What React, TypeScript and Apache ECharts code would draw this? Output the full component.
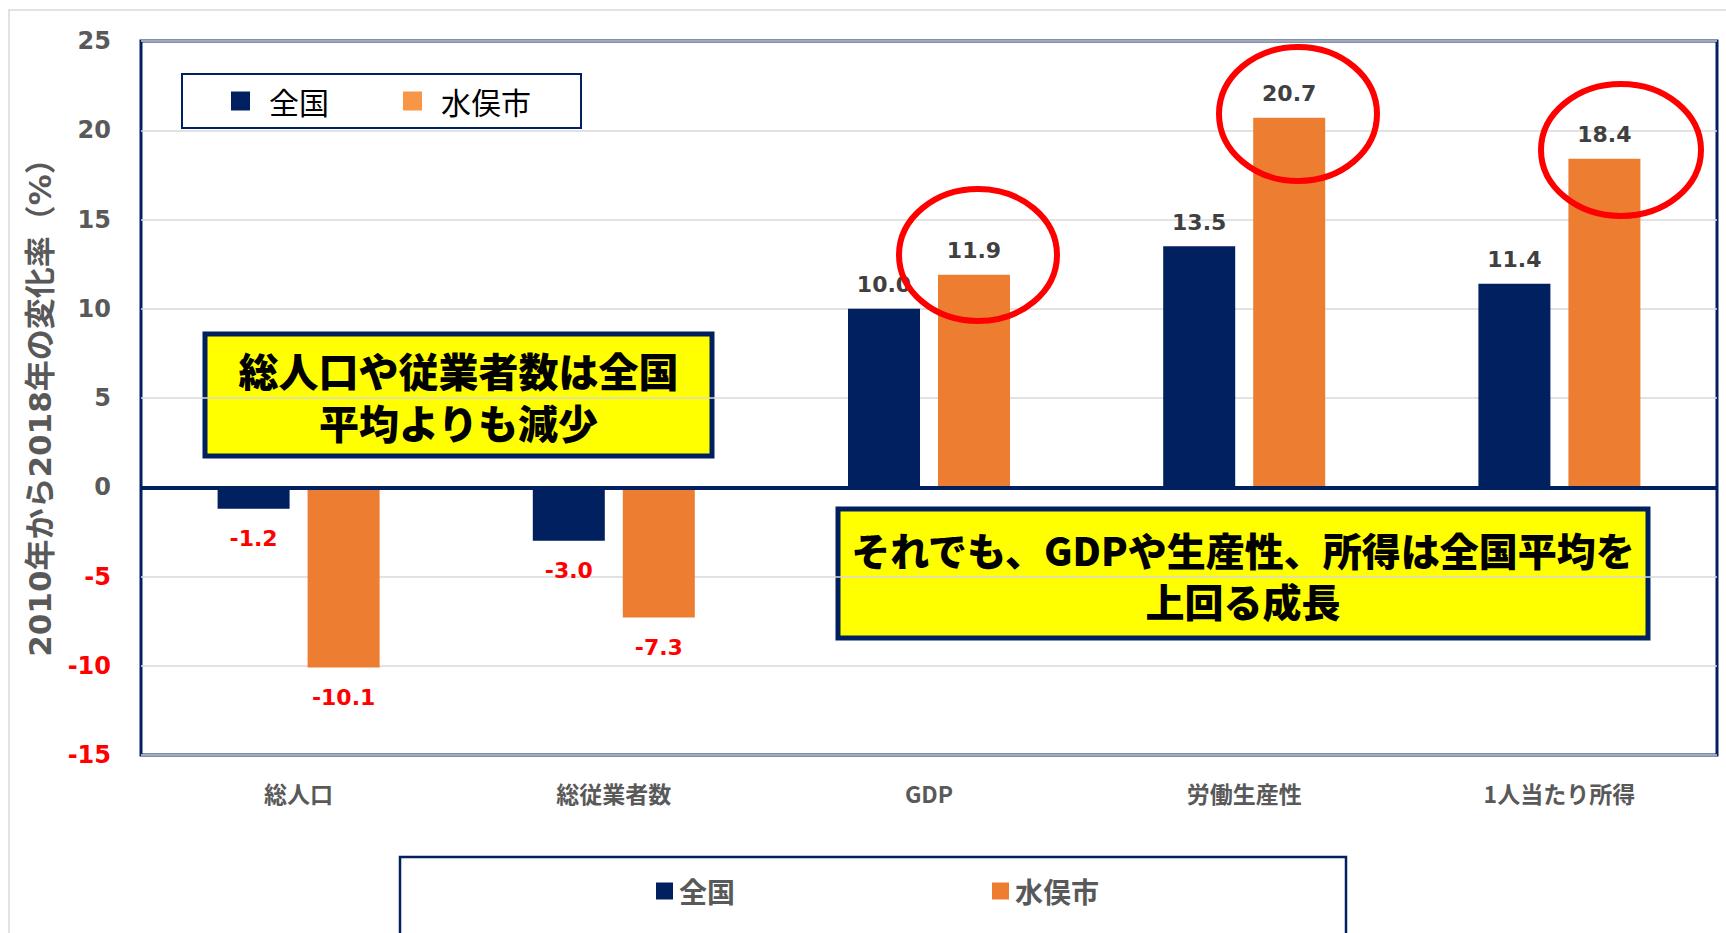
import React, { useEffect, useRef } from "react";
import * as echarts from "echarts";

const categories = ["総人口", "総従業者数", "GDP", "労働生産性", "1人当たり所得"];
const seriesNames = ["全国", "水俣市"];
const nationalValues = [-1.2, -3.0, 10.0, 13.5, 11.4];
const minamataValues = [-10.1, -7.3, 11.9, 20.7, 18.4];
const yMin = -15;
const yMax = 25;
const yInterval = 5;
const yAxisTitle = "2010年から2018年の変化率（%）";
const note1Lines = ["総人口や従業者数は全国", "平均よりも減少"];
const note2Lines = ["それでも、GDPや生産性、所得は全国平均を", "上回る成長"];

const NAVY = "#002060";
const ORANGE = "#ED7D31";
const ORANGE_LIGHT = "#F79646";
const GRAY = "#595959";
const CJK = "'Noto Sans CJK JP', 'Noto Sans', sans-serif";
const NUM = "'DejaVu Sans', 'Noto Sans CJK JP', sans-serif";

function toItems(vals: number[]) {
  return vals.map((v) => ({
    value: v,
    label:
      v < 0
        ? { position: "bottom", color: "#FF0000", distance: 19 }
        : { position: "top", color: "#404040", distance: 13 },
  }));
}

export default function App() {
  const ref = useRef<HTMLDivElement>(null);

  useEffect(() => {
    if (!ref.current) return;
    const chart = echarts.init(ref.current, undefined, { renderer: "svg" });

    const barLabel = {
      show: true,
      fontFamily: NUM,
      fontWeight: "bold",
      fontSize: 22,
      formatter: (p: any) => Number(p.value).toFixed(1),
    };

    const noteBox = (
      x: number,
      y: number,
      w: number,
      h: number,
      lines: string[],
      fs: number,
      lineGap: number
    ) => ({
      type: "group",
      z: 50,
      children: [
        {
          type: "rect",
          shape: { x, y, width: w, height: h },
          style: { fill: "#FFFF00", stroke: NAVY, lineWidth: 5 },
          silent: true,
        },
        ...lines.map((line, i) => ({
          type: "text",
          style: {
            text: line,
            x: x + w / 2,
            y: y + h / 2 + 1 + (i - (lines.length - 1) / 2) * lineGap,
            align: "center",
            verticalAlign: "middle",
            fill: "#000000",
            fontFamily: CJK,
            fontWeight: 900,
            fontSize: fs,
            lineHeight: lineGap - 2,
          },
          silent: true,
        })),
      ],
    });

    const ellipse = (cx: number, cy: number, rx: number, ry: number) => ({
      type: "ellipse",
      z: 60,
      shape: { cx, cy, rx, ry },
      style: { fill: "none", stroke: "#FF0000", lineWidth: 6 },
      silent: true,
    });

    chart.setOption({
      animation: false,
      backgroundColor: "#ffffff",
      grid: {
        left: 141,
        top: 41,
        right: 9,
        bottom: 178,
        show: true,
        borderColor: NAVY,
        borderWidth: 3,
        backgroundColor: "transparent",
      },
      legend: [
        {
          left: 182,
          top: 74,
          orient: "horizontal",
          selectedMode: false,
          icon: "rect",
          itemWidth: 19,
          itemHeight: 19,
          itemGap: 74,
          borderColor: NAVY,
          borderWidth: 2,
          backgroundColor: "#ffffff",
          padding: [12, 50, 12, 49],
          data: [
            { name: seriesNames[0], itemStyle: { color: NAVY } },
            { name: seriesNames[1], itemStyle: { color: ORANGE_LIGHT } },
          ],
          textStyle: {
            fontFamily: CJK,
            fontSize: 30,
            color: "#000000",
            padding: [0, 0, 0, 14],
          },
        },
        {
          left: 400,
          top: 857,
          orient: "horizontal",
          selectedMode: false,
          icon: "rect",
          itemWidth: 17,
          itemHeight: 17,
          itemGap: 257,
          borderColor: NAVY,
          borderWidth: 2.5,
          padding: [20, 247, 60, 256],
          data: [
            { name: seriesNames[0], itemStyle: { color: NAVY } },
            { name: seriesNames[1], itemStyle: { color: ORANGE } },
          ],
          textStyle: {
            fontFamily: CJK,
            fontSize: 28,
            fontWeight: "bold",
            color: GRAY,
            padding: [0, 0, 0, 1],
          },
        },
      ],
      xAxis: {
        type: "category",
        data: categories,
        axisLine: { show: false },
        axisTick: { show: false },
        splitLine: { show: false },
        axisLabel: {
          margin: 26,
          fontFamily: CJK,
          fontSize: 23,
          fontWeight: "bold",
          color: GRAY,
        },
      },
      yAxis: {
        type: "value",
        min: yMin,
        max: yMax,
        interval: yInterval,
        name: yAxisTitle,
        nameLocation: "middle",
        nameRotate: 90,
        nameGap: 86,
        nameTextStyle: {
          fontFamily: NUM,
          fontSize: 31,
          fontWeight: "bold",
          color: GRAY,
          padding: [0, 4, 0, 0],
        },
        axisLine: { show: false },
        axisTick: { show: false },
        splitLine: { show: true, lineStyle: { color: "#D9D9D9", width: 1.5 } },
        axisLabel: {
          margin: 30,
          fontFamily: NUM,
          fontSize: 24,
          fontWeight: "bold",
          color: (v: any) => (Number(v) < 0 ? "#FF0000" : GRAY),
        },
      },
      series: [
        {
          name: seriesNames[0],
          type: "bar",
          barWidth: 72,
          barGap: "25%",
          itemStyle: { color: NAVY },
          label: barLabel,
          data: toItems(nationalValues),
          markLine: {
            silent: true,
            symbol: "none",
            label: { show: false },
            lineStyle: { color: NAVY, width: 4, type: "solid" },
            data: [{ yAxis: 0 }],
            z: 10,
          },
        },
        {
          name: seriesNames[1],
          type: "bar",
          barWidth: 72,
          barGap: "25%",
          itemStyle: { color: ORANGE },
          label: barLabel,
          data: toItems(minamataValues),
        },
      ],
      graphic: [
        {
          type: "rect",
          z: -1,
          shape: { x: 9, y: 10, width: 1800, height: 1000 },
          style: { fill: "none", stroke: "#D9D9D9", lineWidth: 1.5 },
          silent: true,
        },
        noteBox(205, 334, 507, 122, note1Lines, 40, 52.5),
        noteBox(838, 509, 810, 129, note2Lines, 39, 51.5),
        ellipse(978, 255, 79, 66),
        ellipse(1298, 114, 79, 67),
        ellipse(1621, 150, 80, 66),
      ],
    });

    return () => chart.dispose();
  }, []);

  return (
    <div
      ref={ref}
      style={{ position: "fixed", left: 0, top: 0, width: 1726, height: 933 }}
    />
  );
}
